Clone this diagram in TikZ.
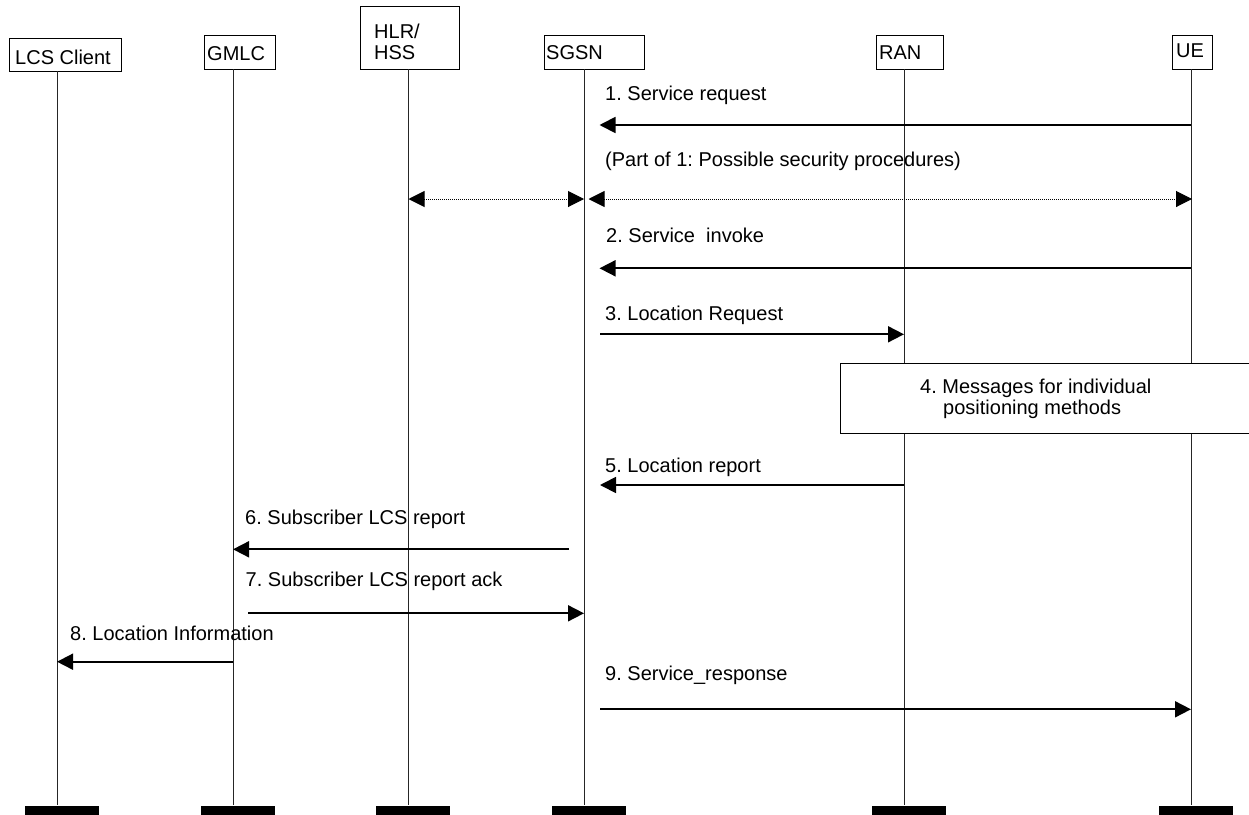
\documentclass[tikz,border=0pt]{standalone}
\usepackage{fontspec}
\setmainfont{Liberation Sans}
\usetikzlibrary{arrows.meta}
\frenchspacing
\begin{document}
\begin{tikzpicture}[x=1pt,y=-1pt,
  hdr/.style={draw=black, line width=1pt, fill=white, inner sep=0pt, anchor=north west},
  lbl/.style={inner sep=0pt, anchor=base west, font=\fontsize{20}{21}\selectfont},
  life/.style={line width=1pt, draw=black!85},
  bar/.style={fill=black, inner sep=0pt, minimum width=74pt, minimum height=10pt, anchor=north west},
  msg/.style={line width=1.8pt, -{Triangle[length=16pt,width=16pt]}},
  dots/.style={line width=1pt, dash pattern=on 1pt off 1pt, {Triangle[length=16pt,width=16pt]}-{Triangle[length=16pt,width=16pt]}}
]
\useasboundingbox (0,0) rectangle (1249,814);
\clip (0,0) rectangle (1249,814);

% header boxes
\node[hdr, minimum width=111.7pt, minimum height=33.6pt] (lcs) at (9,37.7) {};
\node[hdr, minimum width=71pt, minimum height=34.3pt] (gmlc) at (204,35) {};
\node[hdr, minimum width=98.8pt, minimum height=63.6pt] (hlr) at (360,5.7) {};
\node[hdr, minimum width=100.7pt, minimum height=34.3pt] (sgsn) at (543.6,35) {};
\node[hdr, minimum width=66.7pt, minimum height=34.3pt] (ran) at (876,35) {};
\node[hdr, minimum width=40pt, minimum height=34.3pt] (ue) at (1172,35) {};

\node[lbl] (lcsL) at (15,64) {LCS Client};
\node[lbl] (gmlcL) at (207,60) {GMLC};
\node[lbl] (hlrL1) at (374,38.3) {HLR/};
\node[lbl] (hlrL2) at (374,59.3) {HSS};
\node[lbl] (sgsnL) at (546,59.3) {SGSN};
\node[lbl] (ranL) at (879,59.3) {RAN};
\node[lbl] (ueL) at (1176,57.7) {UE};

% lifeline tops
\coordinate (lcsT) at (57,71.3);
\coordinate (gmlcT) at (233,69.3);
\coordinate (hlrT) at (408.5,69.3);
\coordinate (sgsnT) at (584,69.3);
\coordinate (ranT) at (904,69.3);
\coordinate (ueT) at (1191,69.3);

% bottom bars
\node[bar] (lcsB) at (24.5,805.3) {};
\node[bar] (gmlcB) at (200.5,805.3) {};
\node[bar] (hlrB) at (376,805.3) {};
\node[bar] (sgsnB) at (551.5,805.3) {};
\node[bar] (ranB) at (871.5,805.3) {};
\node[bar] (ueB) at (1158.5,805.3) {};

% lifelines
\draw[life] (lcsT) -- (lcsT |- lcsB.north);
\draw[life] (gmlcT) -- (gmlcT |- gmlcB.north);
\draw[life] (hlrT) -- (hlrT |- hlrB.north);
\draw[life] (sgsnT) -- (sgsnT |- sgsnB.north);
\draw[life] (ranT) -- (ranT |- ranB.north);
\draw[life] (ueT) -- (ueT |- ueB.north);

% 1
\node[lbl] (t1) at (605,100) {1. Service request};
\coordinate (m1a) at (1191,125);
\coordinate (m1b) at (599.5,125);
\draw[msg] (m1a) -- (m1b);

% security
\node[lbl] (tp) at (605,166.7) {(Part of 1: Possible security procedures)};
\coordinate (d1a) at (408.5,199);
\coordinate (d1b) at (584,199);
\coordinate (d2a) at (588.5,199);
\coordinate (d2b) at (1192,199);
\draw[dots] (d1a) -- (d1b);
\draw[dots] (d2a) -- (d2b);

% 2
\node[lbl] (t2) at (606,242.7) {2. Service\ \ invoke};
\coordinate (m2a) at (1191,268.3);
\coordinate (m2b) at (599.5,268.3);
\draw[msg] (m2a) -- (m2b);

% 3
\node[lbl] (t3) at (605,320) {3. Location Request};
\coordinate (m3a) at (600,334.3);
\coordinate (m3b) at (904,334.3);
\draw[msg] (m3a) -- (m3b);

% 4
\node[hdr, minimum width=420pt, minimum height=70pt] (pos) at (839.6,363.3) {};
\node[lbl] (t4a) at (920,393.3) {4. Messages for individual};
\node[lbl] (t4b) at (943,414) {positioning methods};

% 5
\node[lbl] (t5) at (605,472) {5. Location report};
\coordinate (m5a) at (904,485);
\coordinate (m5b) at (600,485);
\draw[msg] (m5a) -- (m5b);

% 6
\node[lbl] (t6) at (245,524) {6. Subscriber LCS report};
\coordinate (m6a) at (569,549.3);
\coordinate (m6b) at (233,549.3);
\draw[msg] (m6a) -- (m6b);

% 7
\node[lbl] (t7) at (245.5,586.7) {7. Subscriber LCS report ack};
\coordinate (m7a) at (248,613.3);
\coordinate (m7b) at (584,613.3);
\draw[msg] (m7a) -- (m7b);

% 8
\node[lbl] (t8) at (70,640.7) {8. Location Information};
\coordinate (m8a) at (233,661.7);
\coordinate (m8b) at (57,661.7);
\draw[msg] (m8a) -- (m8b);

% 9
\node[lbl] (t9) at (605,680.7) {9. Service\_response};
\coordinate (m9a) at (600,709.3);
\coordinate (m9b) at (1191,709.3);
\draw[msg] (m9a) -- (m9b);
\end{tikzpicture}
\end{document}
